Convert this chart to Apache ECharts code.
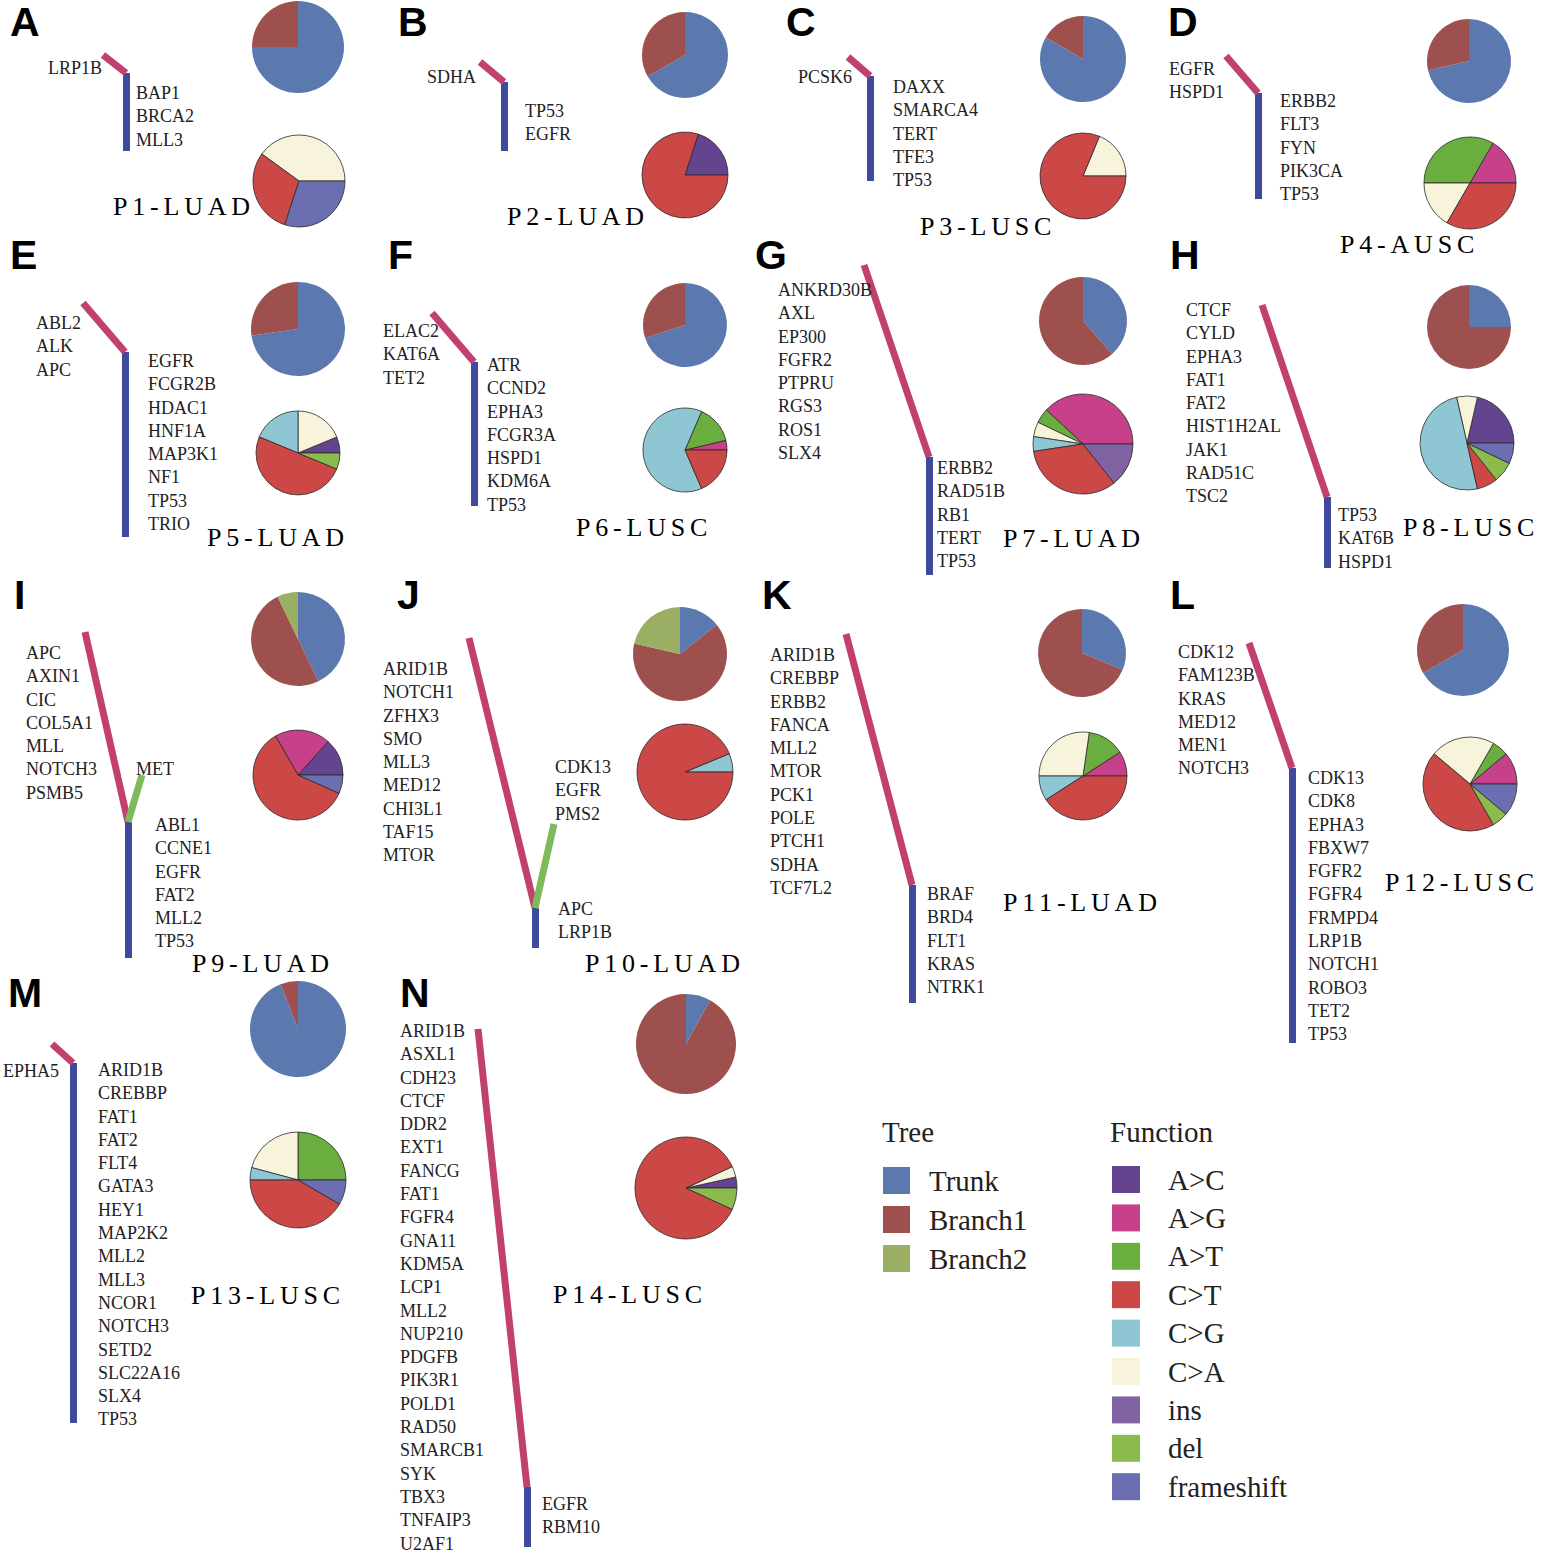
<!DOCTYPE html>
<html><head><meta charset="utf-8">
<script src="https://cdn.jsdelivr.net/npm/echarts@6/dist/echarts.min.js"></script>
<style>html,body{margin:0;padding:0;background:#fff}#chart{width:1541px;height:1553px}</style>
</head><body><div id="chart"></div>
<script>
// ---------------- DATA ----------------
const patients = ['P1-LUAD','P2-LUAD','P3-LUSC','P4-AUSC','P5-LUAD','P6-LUSC','P7-LUAD','P8-LUSC',
                  'P9-LUAD','P10-LUAD','P11-LUAD','P12-LUSC','P13-LUSC','P14-LUSC'];
const panelLetters = ['A','B','C','D','E','F','G','H','I','J','K','L','M','N'];

const trunkGenes = [
  ['BAP1','BRCA2','MLL3'],
  ['TP53','EGFR'],
  ['DAXX','SMARCA4','TERT','TFE3','TP53'],
  ['ERBB2','FLT3','FYN','PIK3CA','TP53'],
  ['EGFR','FCGR2B','HDAC1','HNF1A','MAP3K1','NF1','TP53','TRIO'],
  ['ATR','CCND2','EPHA3','FCGR3A','HSPD1','KDM6A','TP53'],
  ['ERBB2','RAD51B','RB1','TERT','TP53'],
  ['TP53','KAT6B','HSPD1'],
  ['ABL1','CCNE1','EGFR','FAT2','MLL2','TP53'],
  ['APC','LRP1B'],
  ['BRAF','BRD4','FLT1','KRAS','NTRK1'],
  ['CDK13','CDK8','EPHA3','FBXW7','FGFR2','FGFR4','FRMPD4','LRP1B','NOTCH1','ROBO3','TET2','TP53'],
  ['ARID1B','CREBBP','FAT1','FAT2','FLT4','GATA3','HEY1','MAP2K2','MLL2','MLL3','NCOR1','NOTCH3','SETD2','SLC22A16','SLX4','TP53'],
  ['EGFR','RBM10']
];
const branch1Genes = [
  ['LRP1B'],
  ['SDHA'],
  ['PCSK6'],
  ['EGFR','HSPD1'],
  ['ABL2','ALK','APC'],
  ['ELAC2','KAT6A','TET2'],
  ['ANKRD30B','AXL','EP300','FGFR2','PTPRU','RGS3','ROS1','SLX4'],
  ['CTCF','CYLD','EPHA3','FAT1','FAT2','HIST1H2AL','JAK1','RAD51C','TSC2'],
  ['APC','AXIN1','CIC','COL5A1','MLL','NOTCH3','PSMB5'],
  ['ARID1B','NOTCH1','ZFHX3','SMO','MLL3','MED12','CHI3L1','TAF15','MTOR'],
  ['ARID1B','CREBBP','ERBB2','FANCA','MLL2','MTOR','PCK1','POLE','PTCH1','SDHA','TCF7L2'],
  ['CDK12','FAM123B','KRAS','MED12','MEN1','NOTCH3'],
  ['EPHA5'],
  ['ARID1B','ASXL1','CDH23','CTCF','DDR2','EXT1','FANCG','FAT1','FGFR4','GNA11','KDM5A','LCP1','MLL2',
   'NUP210','PDGFB','PIK3R1','POLD1','RAD50','SMARCB1','SYK','TBX3','TNFAIP3','U2AF1']
];
const branch2Genes = [[],[],[],[],[],[],[],[],['MET'],['CDK13','EGFR','PMS2'],[],[],[],[]];

const treeCategories = ['Trunk','Branch1','Branch2'];
// [Trunk, Branch1, Branch2]
const treeCounts = [
  [3,1,0],[2,1,0],[5,1,0],[5,2,0],[8,3,0],[7,3,0],[5,8,0],
  [3,9,0],[6,7,1],[2,9,3],[5,11,0],[12,6,0],[16,1,0],[2,23,0]
];

const funcCategories = ['A>C','A>G','A>T','C>T','C>G','C>A','ins','del','frameshift'];
// per patient, in pie drawing order: A>C, A>G, A>T, C>A, C>G, C>T, del, frameshift, ins
const pieOrder = ['A>C','A>G','A>T','C>A','C>G','C>T','del','frameshift','ins'];
const funcCounts = [
  [0,0,0,4,0,3,0,3,0],
  [1,0,0,0,0,4,0,0,0],
  [0,0,0,3,0,13,0,0,0],
  [0,1,2,1,0,2,0,0,0],
  [1,0,0,3,3,8,1,0,0],
  [0,1,4,0,17,5,0,0,0],
  [0,8,1,1,1,7,0,0,3],
  [3,0,0,1,7,1,1,1,0],
  [2,3,0,0,0,9,0,1,0],
  [0,0,0,0,1,15,0,0,0],
  [0,2,3,6,2,9,0,0,0],
  [0,2,1,4,0,8,1,2,0],
  [0,0,6,5,1,10,0,2,0],
  [1,0,0,1,0,25,2,0,0]
];

// ---------------- STYLE / LAYOUT ----------------
const treeColors = {Trunk:'#5b79ae', Branch1:'#9e504e', Branch2:'#9aae64'};
const funcColors = {'A>C':'#65448f','A>G':'#c6418a','A>T':'#6aae3f','C>T':'#cc4846','C>G':'#8fc6d3',
                    'C>A':'#f8f4dc','ins':'#8063a2','del':'#8cbb4d','frameshift':'#6b6fb2'};
const lineColors = {trunk:'#3f4a9c', b1:'#c2406f', b2:'#7dbb5a'};

const layout = [
 {letter:[10,22],  trunk:[126,73,151],  b1:[103,55],  b1Label:[48,68],   trunkLabel:[136,93],  treePie:[298,47,46],  funcPie:[299,181,46], title:[113,206]},
 {letter:[398,22], trunk:[504,82,151],  b1:[480,62],  b1Label:[427,77],  trunkLabel:[525,111], treePie:[685,55,43],  funcPie:[685,175,43], title:[507,216]},
 {letter:[786,22], trunk:[870,76,181],  b1:[848,57],  b1Label:[798,77],  trunkLabel:[893,87],  treePie:[1083,59,43], funcPie:[1083,176,43],title:[920,226]},
 {letter:[1168,22],trunk:[1258,93,199], b1:[1226,56], b1Label:[1169,69], trunkLabel:[1280,101],treePie:[1469,61,42], funcPie:[1470,183,46],title:[1340,244]},
 {letter:[10,255], trunk:[125,352,537], b1:[83,303],  b1Label:[36,323],  trunkLabel:[148,361], treePie:[298,329,47], funcPie:[298,453,42], title:[207,537]},
 {letter:[388,255],trunk:[474,362,506], b1:[432,313], b1Label:[383,331], trunkLabel:[487,365], treePie:[685,325,42], funcPie:[685,450,42], title:[576,527]},
 {letter:[755,255],trunk:[929,457,575], b1:[864,265], b1Label:[778,290], trunkLabel:[937,468], treePie:[1083,321,44],funcPie:[1083,444,50],title:[1003,538]},
 {letter:[1170,255],trunk:[1327,497,568],b1:[1262,305],b1Label:[1186,310],trunkLabel:[1338,515],treePie:[1469,327,42],funcPie:[1467,443,47],title:[1403,527]},
 {letter:[14,595], trunk:[128,822,958], b1:[85,632], b2:[142,775], b1Label:[26,653], b2Label:[136,769], trunkLabel:[155,825], treePie:[298,639,47], funcPie:[298,775,45], title:[192,963]},
 {letter:[397,595],trunk:[535,908,948], b1:[469,638], b2:[554,824], b1Label:[383,669], b2Label:[555,767], trunkLabel:[558,909], treePie:[680,654,47], funcPie:[685,772,48], title:[585,963]},
 {letter:[762,595],trunk:[912,885,1003],b1:[846,634], b1Label:[770,655], trunkLabel:[927,894], treePie:[1082,653,44],funcPie:[1083,776,44],title:[1003,902]},
 {letter:[1170,595],trunk:[1292,768,1043],b1:[1249,643],b1Label:[1178,652],trunkLabel:[1308,778],treePie:[1463,650,46],funcPie:[1470,784,47],title:[1385,882]},
 {letter:[8,993],  trunk:[73,1063,1423],b1:[52,1044],  b1Label:[3,1071],  trunkLabel:[98,1070], treePie:[298,1029,48],funcPie:[298,1180,48],title:[191,1295]},
 {letter:[400,993],trunk:[527,1487,1547],b1:[478,1029],b1Label:[400,1031],trunkLabel:[542,1504],treePie:[686,1044,50],funcPie:[686,1188,51],title:[553,1294]}
];

const LH = 23.3;
const SERIF = "'Liberation Serif', 'Times New Roman', serif";
const SANS = "'Liberation Sans', Arial, sans-serif";

function txt(x, y, text, size, family, weight, va, color) {
  return {type:'text', x:x, y:y, silent:true, z:10,
    style:{text:text, fontSize:size, fontFamily:family, fontWeight:weight||'normal',
           fill:color||'#222', align:'left', textAlign:'left',
           verticalAlign:va||'middle', textVerticalAlign:va||'middle', lineHeight:LH}};
}

// ---------------- BUILD ----------------
const lineData = [];
const graphics = [];
const series = [];

patients.forEach(function(p, i){
  const L = layout[i];
  const tx = L.trunk[0], tTop = L.trunk[1], tBot = L.trunk[2];
  lineData.push({coords:[[tx,tTop],[tx,tBot]], lineStyle:{color:lineColors.trunk}});
  lineData.push({coords:[[L.b1[0],L.b1[1]],[tx,tTop]], lineStyle:{color:lineColors.b1}});
  if (L.b2) lineData.push({coords:[[L.b2[0],L.b2[1]],[tx,tTop]], lineStyle:{color:lineColors.b2}});

  graphics.push(txt(L.letter[0], L.letter[1], panelLetters[i], 41, SANS, 'bold', 'middle', '#000'));
  graphics.push(txt(L.title[0], L.title[1], p, 26, SERIF, 'normal', 'middle', '#000'));
  graphics.push(txt(L.b1Label[0], L.b1Label[1]-LH/2, branch1Genes[i].join('\n'), 18, SERIF, 'normal', 'top'));
  graphics.push(txt(L.trunkLabel[0], L.trunkLabel[1]-LH/2, trunkGenes[i].join('\n'), 18, SERIF, 'normal', 'top'));
  if (L.b2Label) graphics.push(txt(L.b2Label[0], L.b2Label[1]-LH/2, branch2Genes[i].join('\n'), 18, SERIF, 'normal', 'top'));

  series.push({
    type:'pie', name:p+' tree', center:[L.treePie[0], L.treePie[1]], radius:L.treePie[2],
    startAngle:90, clockwise:true, silent:true, animation:false, avoidLabelOverlap:false,
    label:{show:false}, labelLine:{show:false}, emphasis:{disabled:true},
    itemStyle:{borderWidth:0},
    data: treeCategories.map(function(c,k){ return {name:c, value:treeCounts[i][k], itemStyle:{color:treeColors[c]}}; })
                        .filter(function(d){ return d.value>0; })
  });
  series.push({
    type:'pie', name:p+' function', center:[L.funcPie[0], L.funcPie[1]], radius:L.funcPie[2],
    startAngle:0, clockwise:false, silent:true, animation:false, avoidLabelOverlap:false,
    label:{show:false}, labelLine:{show:false}, emphasis:{disabled:true},
    itemStyle:{borderColor:'#2a2a2a', borderWidth:0.8},
    data: pieOrder.map(function(c,k){ return {name:c, value:funcCounts[i][k], itemStyle:{color:funcColors[c]}}; })
                  .filter(function(d){ return d.value>0; })
  });
});

series.unshift({
  type:'lines', coordinateSystem:'cartesian2d', xAxisIndex:0, yAxisIndex:0, polyline:false,
  silent:true, animation:false, z:3,
  lineStyle:{width:7, opacity:1, cap:'butt'},
  data: lineData
});

graphics.push(txt(882, 1132, 'Tree', 29, SERIF, 'normal', 'middle', '#222'));
graphics.push(txt(1110, 1132, 'Function', 29, SERIF, 'normal', 'middle', '#222'));

const legendText = {fontSize:29, fontFamily:SERIF, color:'#222'};

const chart = echarts.init(document.getElementById('chart'), null, {renderer:'svg'});
chart.setOption({
  backgroundColor:'#ffffff',
  animation:false,
  grid:{left:0, right:0, top:0, bottom:0, containLabel:false},
  xAxis:{type:'value', min:0, max:1541, show:false},
  yAxis:{type:'value', min:0, max:1553, inverse:true, show:false},
  legend:[
    {data:treeCategories, orient:'vertical', left:883, top:1166, padding:0, itemWidth:27, itemHeight:27, itemGap:10,
     icon:'rect', selectedMode:false, itemStyle:{borderWidth:0},
     textStyle:Object.assign({padding:[0,0,0,14]}, legendText)},
    {data:funcCategories, orient:'vertical', left:1112, top:1165, padding:0, itemWidth:28, itemHeight:27, itemGap:9.4,
     icon:'rect', selectedMode:false, itemStyle:{borderWidth:0},
     textStyle:Object.assign({padding:[0,0,0,23]}, legendText)}
  ],
  graphic:{elements:graphics},
  series:series
});

// widen the tracking of the patient titles (as in the original figure)
function spaceTitles(){
  const nodes = document.querySelectorAll('#chart svg text');
  nodes.forEach(function(n){
    if (patients.indexOf((n.textContent||'').trim()) >= 0) n.setAttribute('letter-spacing','4.8');
  });
}
spaceTitles();
chart.on('finished', spaceTitles);
chart.on('rendered', spaceTitles);
setTimeout(spaceTitles, 0);
setTimeout(spaceTitles, 200);
</script></body></html>
